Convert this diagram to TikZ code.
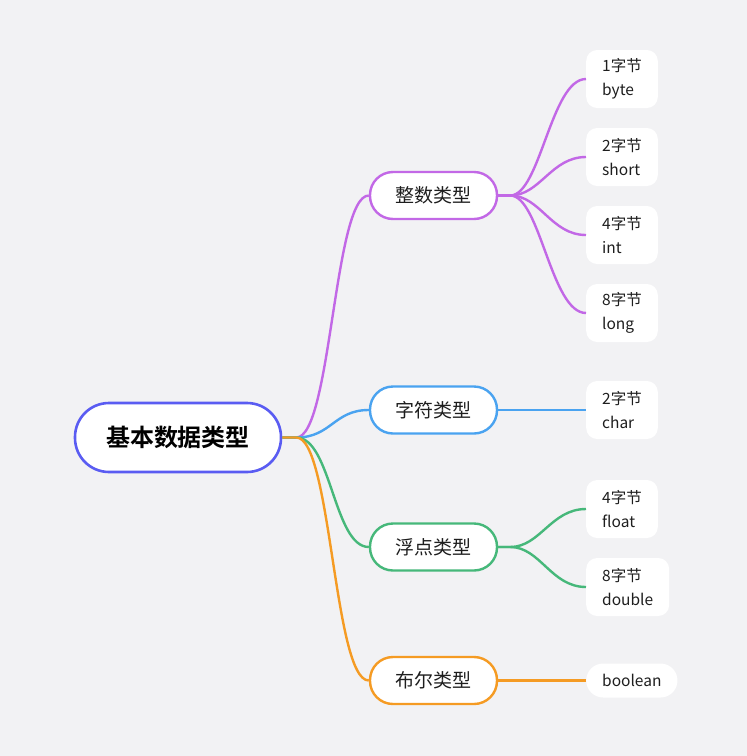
\documentclass[tikz,border=0pt]{standalone}
\usetikzlibrary{calc}
\usepackage{fontspec}
\setmainfont{Noto Sans CJK SC}
\newfontfamily\cjkb{Noto Sans CJK SC Bold}
\definecolor{bgc}{RGB}{242,242,244}
\definecolor{rootc}{RGB}{90,92,242}
\definecolor{purp}{RGB}{194,104,230}
\definecolor{bluec}{RGB}{74,163,240}
\definecolor{greenc}{RGB}{70,184,122}
\definecolor{orangec}{RGB}{245,155,35}
\definecolor{txt}{RGB}{30,30,30}
\begin{document}
\begin{tikzpicture}[x=1pt,y=-1pt,
  rootbox/.style={draw=rootc,line width=2.6pt,fill=white,rounded corners=34pt,minimum width=206pt,minimum height=69pt,inner sep=0pt,font=\cjkb\fontsize{24}{27}\selectfont,text=black},
  branchbox/.style={line width=2.4pt,fill=white,rounded corners=23pt,minimum width=127pt,minimum height=47pt,inner sep=0pt,font=\fontsize{19}{22}\selectfont,text=txt},
  leafbox/.style={fill=white,rounded corners=11pt,anchor=west,inner xsep=16pt,inner ysep=0pt,minimum height=58pt,align=left,font=\fontsize{15.5}{24}\selectfont,text=txt},
  link/.style={line width=2.4pt}]
\fill[bgc] (0,0) rectangle (747,756);
\useasboundingbox (0,0) rectangle (747,756);

\node[rootbox] (root) at (178,437.5) {基本数据类型};

\node[branchbox,draw=purp] (int) at (433.5,195.5) {整数类型};
\node[branchbox,draw=bluec] (chr) at (433.5,410) {字符类型};
\node[branchbox,draw=greenc] (flt) at (433.5,547) {浮点类型};
\node[branchbox,draw=orangec] (bool) at (433.5,680.5) {布尔类型};

\node[leafbox] (l1) at (586,79) {1字节\\byte};
\node[leafbox] (l2) at (586,157) {2字节\\short};
\node[leafbox] (l3) at (586,235) {4字节\\int};
\node[leafbox] (l4) at (586,313) {8字节\\long};
\node[leafbox] (l5) at (586,410) {2字节\\char};
\node[leafbox] (l6) at (586,509) {4字节\\float};
\node[leafbox] (l7) at (586,587) {8字节\\double};
\node[leafbox,minimum height=34pt,rounded corners=17pt] (l8) at (586,680.5) {boolean};

% root to branches
\draw[link,purp] (root.east) -- ++(14,0) .. controls +(35,0) and ($(int.west)+(-35,0)$) .. (int.west);
\draw[link,bluec] (root.east) -- ++(14,0) .. controls +(35,0) and ($(chr.west)+(-35,0)$) .. (chr.west);
\draw[link,greenc] (root.east) -- ++(14,0) .. controls +(35,0) and ($(flt.west)+(-35,0)$) .. (flt.west);
\draw[link,orangec] (root.east) -- ++(14,0) .. controls +(35,0) and ($(bool.west)+(-35,0)$) .. (bool.west);

% branches to leaves
\foreach \l in {l1,l2,l3,l4}{
  \draw[link,purp] (int.east) -- ++(12,0) .. controls +(30,0) and ($(\l.west)+(-35,0)$) .. (\l.west);
}
\draw[link,bluec] (chr.east) -- (l5.west);
\foreach \l in {l6,l7}{
  \draw[link,greenc] (flt.east) -- ++(12,0) .. controls +(30,0) and ($(\l.west)+(-35,0)$) .. (\l.west);
}
\draw[link,orangec] (bool.east) -- (l8.west);
\end{tikzpicture}
\end{document}
